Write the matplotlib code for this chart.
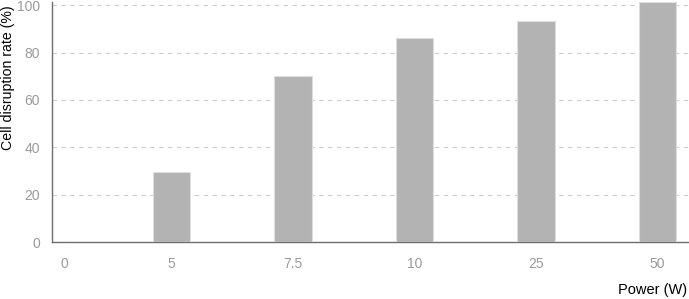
import matplotlib
matplotlib.use("Agg")
import matplotlib.pyplot as plt
import numpy as np

categories = ["0", "5", "7.5", "10", "25", "50"]
values = [0, 29.5, 70, 86, 93.5, 101.3]
y_ticks = [0, 20, 40, 60, 80, 100]

plt.rcParams['font.family'] = ['Liberation Sans', 'DejaVu Sans']

W, H = 689, 299
fig = plt.figure(figsize=(W / 100, H / 100), dpi=100)
ax = fig.add_axes([52.5 / W, (H - 242) / H, (W - 52.5) / W, 240 / H])

x = np.arange(len(categories))
ax.bar(x, values, width=0.31, color='#b3b3b3', edgecolor='#dedede', linewidth=0.8, zorder=3)

ax.set_xlim(0.02, 5.26)
ax.set_ylim(0, 101.4)

ax.set_yticks(y_ticks)
ax.set_yticklabels([str(t) for t in y_ticks])
ax.yaxis.grid(True, linestyle=(0, (4, 4)), color='#cfcfcf', linewidth=0.8, zorder=0)
ax.set_axisbelow(True)

xtick_pos = list(x.astype(float))
xtick_pos[0] = 0.115
ax.set_xticks(xtick_pos)
ax.set_xticklabels(categories)

ax.tick_params(axis='both', length=0, labelsize=10, colors='#9a9a9a')
ax.tick_params(axis='y', pad=9)
ax.tick_params(axis='x', pad=11)

for s in ['top', 'right']:
    ax.spines[s].set_visible(False)
for s in ['left', 'bottom']:
    ax.spines[s].set_color('#6e6e6e')
    ax.spines[s].set_linewidth(1.0)

fig.text(8 / W, (H - 150) / H, "Cell disruption rate (%)", rotation=90,
         ha='center', va='bottom', fontsize=10.2, color='black')
fig.text(687 / W, (H - 290) / H, "Power (W)", ha='right', va='center',
         fontsize=10.5, color='black')

fig.savefig("out.png", dpi=100)
